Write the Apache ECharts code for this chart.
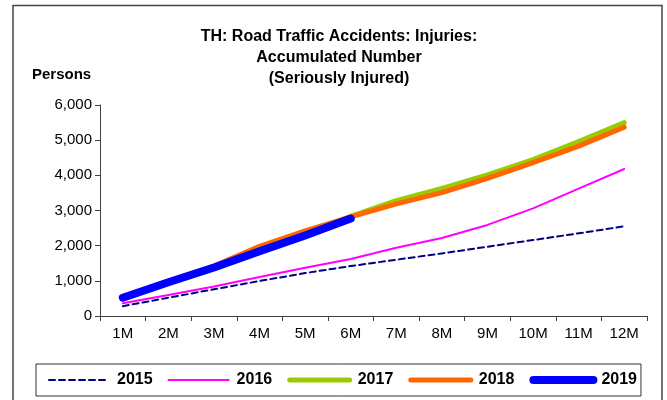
<!DOCTYPE html>
<html>
<head>
<meta charset="utf-8">
<script src="https://cdn.jsdelivr.net/npm/echarts@6/dist/echarts.min.js"></script>
<style>html,body{margin:0;padding:0;background:#fff;}#c{width:667px;height:400px;}</style>
</head>
<body>
<div id="c"></div>
<script>
const categories = ['1M','2M','3M','4M','5M','6M','7M','8M','9M','10M','11M','12M'];
const s2015 = [280, 520, 760, 995, 1220, 1420, 1600, 1780, 1970, 2160, 2350, 2550];
const s2016 = [360, 600, 840, 1110, 1370, 1620, 1940, 2220, 2590, 3060, 3620, 4180];
const s2017 = [500, 960, 1380, 1850, 2300, 2830, 3280, 3630, 4010, 4450, 4960, 5500];
const s2018 = [510, 980, 1420, 1980, 2420, 2820, 3190, 3510, 3915, 4360, 4830, 5370];
const s2019 = [520, 960, 1380, 1840, 2290, 2770];
const yTicks = [0, 1000, 2000, 3000, 4000, 5000, 6000];

const FONT = 'Liberation Sans, Arial, sans-serif';
const chart = echarts.init(document.getElementById('c'), null, {renderer: 'canvas'});
const styles = {
  '2015': {color: '#000080', width: 2, type: [6, 4]},
  '2016': {color: '#FF00FF', width: 2, type: 'solid'},
  '2017': {color: '#99CC00', width: 5, type: 'solid'},
  '2018': {color: '#FF6600', width: 5, type: 'solid'},
  '2019': {color: '#0000FF', width: 8, type: 'solid'}
};
function line(name, data, z) {
  const s = styles[name];
  return {
    name, type: 'line', data, symbol: 'none', showSymbol: false, smooth: false, z,
    lineStyle: {color: s.color, width: s.width, type: s.type, cap: 'round', join: 'round'},
    itemStyle: {color: s.color}
  };
}
const legendData = Object.keys(styles).map(n => ({
  name: n,
  itemStyle: {opacity: 0},
  lineStyle: {width: styles[n].width, color: styles[n].color, type: styles[n].type, cap: 'round'}
}));
chart.setOption({
  animation: false,
  backgroundColor: '#fff',
  title: {
    text: 'TH: Road Traffic Accidents: Injuries:\nAccumulated Number\n(Seriously Injured)',
    left: 334, textAlign: 'center', top: 21,
    textStyle: {fontFamily: FONT, fontSize: 16, fontWeight: 'bold', color: '#000', lineHeight: 21}
  },
  graphic: [
    {type: 'rect', shape: {x: 13, y: 5.5, width: 649, height: 420}, style: {fill: 'none', stroke: '#444', lineWidth: 1.5}, silent: true},
    {type: 'text', left: 32, top: 67, style: {text: 'Persons', font: 'bold 15px ' + FONT, fill: '#000'}}
  ],
  legend: {
    left: 36, top: 364,
    padding: [8, 4, 8, 12], itemGap: 15,
    itemWidth: 60, itemHeight: 14,
    borderColor: '#333', borderWidth: 1,
    textStyle: {fontFamily: FONT, fontSize: 16, fontWeight: 'bold', color: '#000', padding: [0, 0, 0, 3]},
    data: legendData
  },
  grid: {left: 100, right: 20, top: 105, bottom: 84, containLabel: false},
  xAxis: {
    type: 'category', data: categories, boundaryGap: true,
    axisLine: {lineStyle: {color: '#404040', width: 1}},
    axisTick: {show: true, length: 5, inside: false, lineStyle: {color: '#404040'}},
    axisLabel: {fontFamily: FONT, fontSize: 15, color: '#000', margin: 10}
  },
  yAxis: {
    type: 'value', min: yTicks[0], max: yTicks[yTicks.length - 1], interval: 1000,
    splitLine: {show: false},
    axisLine: {show: true, lineStyle: {color: '#404040', width: 1}},
    axisTick: {show: true, length: 5, lineStyle: {color: '#404040'}},
    axisLabel: {fontFamily: FONT, fontSize: 15, color: '#000', margin: 8,
      formatter: v => v.toLocaleString('en-US')}
  },
  series: [
    line('2015', s2015, 5),
    line('2016', s2016, 6),
    line('2017', s2017, 7),
    line('2018', s2018, 8),
    line('2019', s2019, 9)
  ]
});
</script>
</body>
</html>
